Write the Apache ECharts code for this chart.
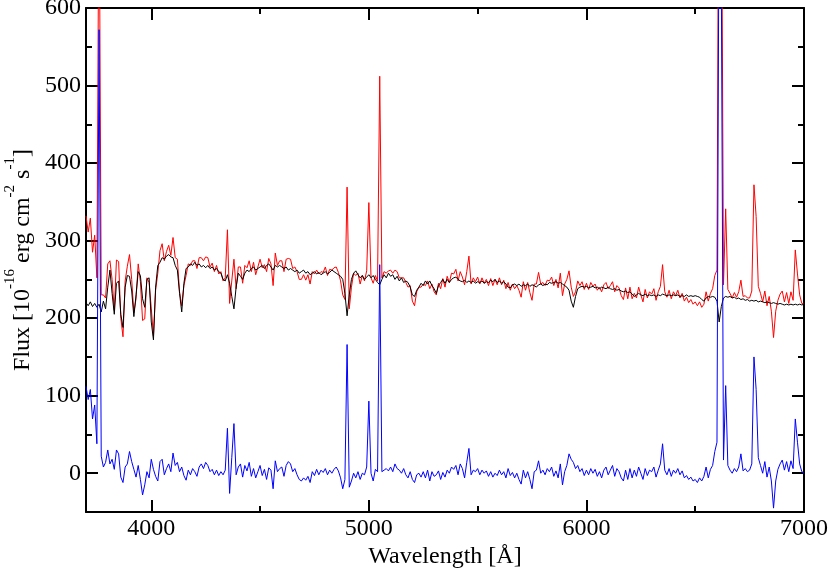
<!DOCTYPE html>
<html>
<head>
<meta charset="utf-8">
<script src="https://cdn.jsdelivr.net/npm/echarts@6/dist/echarts.min.js"></script>
<style>html,body{margin:0;padding:0;background:#fff}#chart{width:830px;height:576px}</style>
</head>
<body>
<div id="chart"></div>
<script>
// Wavelength grid: 3700..7000 Å in 10 Å steps
const waveStart = 3700, waveEnd = 7000, waveStep = 10;
const wavelengths = [];
for (let w = waveStart; w <= waveEnd; w += waveStep) wavelengths.push(w);

// Observed spectrum (red)
const observedFlux = [
  332,311,329,285,307,252,790,230,230,226,
  270,274,250,210,275,273,200,176,248,267,
  282,250,207,225,270,247,197,199,252,246,
  213,177,236,258,287,296,274,286,294,281,
  304,278,276,234,216,242,255,270,268,274,
  274,264,278,278,274,279,278,266,271,260,
  268,257,260,248,252,314,219,248,276,238,
  266,266,245,268,265,274,260,272,256,266,
  276,265,269,260,277,270,242,284,268,274,
  274,260,276,277,276,264,266,260,250,250,
  256,249,256,244,260,257,262,257,260,259,
  266,255,263,262,265,266,259,248,230,224,
  369,212,240,258,255,258,244,255,248,261,
  349,252,245,255,248,512,252,260,258,261,
  262,258,262,260,252,252,252,246,240,242,
  222,216,234,240,240,244,242,248,238,244,
  234,230,245,238,251,240,254,246,258,257,
  263,248,260,253,243,260,280,244,252,247,
  253,244,252,245,250,242,251,242,250,243,
  252,243,249,238,246,236,244,238,242,236,
  227,247,236,246,233,223,244,244,259,244,
  246,242,249,248,253,242,250,239,258,229,
  244,250,261,240,228,234,248,242,247,237,
  245,237,246,241,244,236,240,234,243,246,
  238,242,247,234,242,239,229,224,239,225,
  240,225,232,226,240,230,221,237,226,234,
  231,238,223,234,241,269,234,227,236,225,
  234,229,236,226,232,222,227,220,224,218,
  221,216,221,214,218,234,222,232,238,255,
  262,975,855,243,341,237,232,226,233,227,
  234,249,228,229,226,226,235,372,331,241,
  232,221,235,216,228,209,175,209,223,231,
  235,221,233,219,234,223,288,257,230,219,
  218
];

// Stellar population model (black)
const modelFlux = [
  220,216,221,215,219,214,218,208,222,212,
  240,262,232,205,245,248,205,188,240,255,
  254,235,202,230,260,255,225,214,250,252,
  195,172,240,268,272,278,276,280,282,279,
  278,268,262,232,208,245,264,266,270,268,
  272,268,270,266,268,265,268,264,266,262,
  264,260,258,250,248,256,245,228,212,240,
  258,254,250,258,262,260,264,266,262,264,
  266,268,264,268,270,266,262,268,266,268,
  266,264,266,262,264,262,260,262,258,260,
  262,258,260,256,258,260,257,259,256,258,
  260,257,259,262,260,258,256,254,250,232,
  203,230,250,258,261,256,252,255,250,253,
  256,252,255,250,246,243,250,256,252,258,
  254,256,250,254,248,252,246,248,246,240,
  230,228,236,240,245,242,248,244,248,242,
  238,232,242,246,250,245,250,246,250,252,
  253,250,248,247,249,246,248,246,248,245,
  247,246,248,245,247,246,249,247,250,246,
  248,245,247,244,240,239,243,244,242,244,
  241,243,242,244,241,243,242,240,243,244,
  242,244,243,246,245,246,247,245,246,244,
  242,240,236,222,214,228,238,240,241,240,
  241,239,240,241,239,240,238,240,239,238,
  240,238,237,238,236,237,235,234,235,233,
  234,231,228,230,232,230,229,231,229,230,
  229,230,228,230,229,231,230,229,230,229,
  230,229,230,228,229,228,230,228,229,228,
  229,228,227,224,222,226,228,227,228,227,
  222,195,215,226,228,227,228,226,227,225,
  226,224,225,223,224,222,223,222,223,221,
  222,221,220,221,220,219,220,219,218,219,
  218,217,218,217,218,217,218,217,218,217,
  218
];

// Residual emission spectrum (blue)
const residualFlux = [
  112,95,108,70,88,38,572,22,8,14,
  30,12,18,5,30,25,-5,-12,8,12,
  28,15,5,-5,10,-8,-28,-15,2,-6,
  18,5,-4,-10,15,18,-2,6,12,2,
  26,10,14,2,8,-3,-9,4,-2,6,
  2,-4,8,12,6,14,10,2,5,-2,
  4,-3,2,-2,4,58,-26,20,64,-2,
  8,12,-5,10,3,14,-4,6,-6,2,
  10,-3,5,-8,7,4,-20,16,2,6,
  8,-4,10,15,12,2,6,-2,-8,-10,
  -6,-9,-4,-12,2,-3,5,-2,4,1,
  6,-2,4,0,5,8,3,-6,-20,-8,
  166,-18,-10,0,-6,2,-8,0,-2,8,
  93,0,-10,5,2,269,2,4,6,3,
  8,2,12,6,4,0,6,-2,-6,2,
  -8,-12,-2,0,-5,2,-6,4,-10,2,
  -4,-2,3,-8,1,-5,4,0,8,5,
  10,-2,12,6,-6,14,32,-2,4,2,
  6,-2,4,0,3,-4,2,-5,0,-3,
  4,-2,2,-6,6,-3,1,-6,0,-8,
  -14,4,-6,2,-8,-20,2,4,16,0,
  4,-2,6,2,8,-4,3,-6,12,-15,
  2,10,25,18,14,6,10,2,6,-3,
  4,-2,6,0,5,-4,2,-6,4,8,
  -2,4,10,-4,6,2,-6,-10,4,-8,
  6,-6,4,-4,8,0,-8,6,-3,4,
  2,8,-5,4,12,38,4,-2,6,-4,
  4,0,6,-2,3,-6,-3,-8,-5,-10,
  -8,-12,-6,-10,-4,8,-6,5,10,28,
  40,780,640,17,113,10,4,0,6,2,
  8,25,3,6,2,4,12,150,108,20,
  10,0,15,-5,8,-10,-45,-10,5,12,
  17,4,15,2,16,6,70,40,12,2,
  0
];

// Tick positions / labels
const xMajorTicks = [4000, 5000, 6000, 7000];
const xMinorTicks = [4500, 5500, 6500];
const yMajorTicks = [0, 100, 200, 300, 400, 500, 600];
const yMinorTicks = [-50, 50, 150, 250, 350, 450, 550];
const xRange = [3700, 7000];
const yRange = [-50, 600];
const xTitle = 'Wavelength [Å]';
const yTitle = 'Flux [10{sup|-16} erg cm{sup|-2} s{sup|-1}]';

const FONT = '"Liberation Serif", "Times New Roman", serif';

function pairs(vals) { return wavelengths.map((w, i) => [w, vals[i]]); }
const plainLabel = v => String(Math.round(v));

function xAxisDef(position, ticks, len, withLine, withLabel) {
  return {
    type: 'value', position: position, min: xRange[0], max: xRange[1],
    axisLine: { show: withLine, onZero: false, lineStyle: { color: '#000', width: 2 } },
    axisTick: { show: true, inside: true, length: len, customValues: ticks, lineStyle: { color: '#000', width: 2 } },
    axisLabel: withLabel ? { show: true, customValues: ticks, formatter: plainLabel, color: '#000', fontFamily: FONT, fontSize: 24, margin: 5 } : { show: false },
    splitLine: { show: false }
  };
}
function yAxisDef(position, ticks, len, withLine, withLabel) {
  return {
    type: 'value', position: position, min: yRange[0], max: yRange[1],
    axisLine: { show: withLine, onZero: false, lineStyle: { color: '#000', width: 2 } },
    axisTick: { show: true, inside: true, length: len, customValues: ticks, lineStyle: { color: '#000', width: 2 } },
    axisLabel: withLabel ? { show: true, customValues: ticks, formatter: plainLabel, color: '#000', fontFamily: FONT, fontSize: 24, margin: 5 } : { show: false },
    splitLine: { show: false }
  };
}

const xAxes = [
  xAxisDef('bottom', xMajorTicks, 12, true, true),
  xAxisDef('bottom', xMinorTicks, 6, false, false),
  xAxisDef('top', xMajorTicks, 12, true, false),
  xAxisDef('top', xMinorTicks, 6, false, false)
];
Object.assign(xAxes[0], {
  name: xTitle, nameLocation: 'middle', nameGap: 33, nameMoveOverlap: false,
  nameTextStyle: { color: '#000', fontFamily: FONT, fontSize: 24 }
});
const yAxes = [
  yAxisDef('left', yMajorTicks, 12, true, true),
  yAxisDef('left', yMinorTicks, 6, false, false),
  yAxisDef('right', yMajorTicks, 12, true, false),
  yAxisDef('right', yMinorTicks, 6, false, false)
];
Object.assign(yAxes[0], {
  name: yTitle, nameLocation: 'middle', nameRotate: 90, nameGap: 43, nameMoveOverlap: false,
  nameTextStyle: {
    color: '#000', fontFamily: FONT, fontSize: 24, lineHeight: 40,
    rich: { sup: { color: '#000', fontFamily: FONT, fontSize: 15, lineHeight: 15, verticalAlign: 'top' } }
  }
});

const chart = echarts.init(document.getElementById('chart'), null, { renderer: 'canvas' });
chart.setOption({
  animation: false,
  backgroundColor: '#fff',
  grid: { left: 86, right: 26, top: 8, bottom: 64, containLabel: false, outerBoundsMode: 'none' },
  xAxis: xAxes,
  yAxis: yAxes,
  series: [
    { name: 'observed', type: 'line', data: pairs(observedFlux), showSymbol: false, clip: true,
      lineStyle: { color: '#ff0000', width: 1 }, z: 2 },
    { name: 'model', type: 'line', data: pairs(modelFlux), showSymbol: false, clip: true,
      lineStyle: { color: '#000000', width: 1 }, z: 3 },
    { name: 'residual', type: 'line', data: pairs(residualFlux), showSymbol: false, clip: true,
      lineStyle: { color: '#0000ff', width: 1 }, z: 4 }
  ]
});
</script>
</body>
</html>
